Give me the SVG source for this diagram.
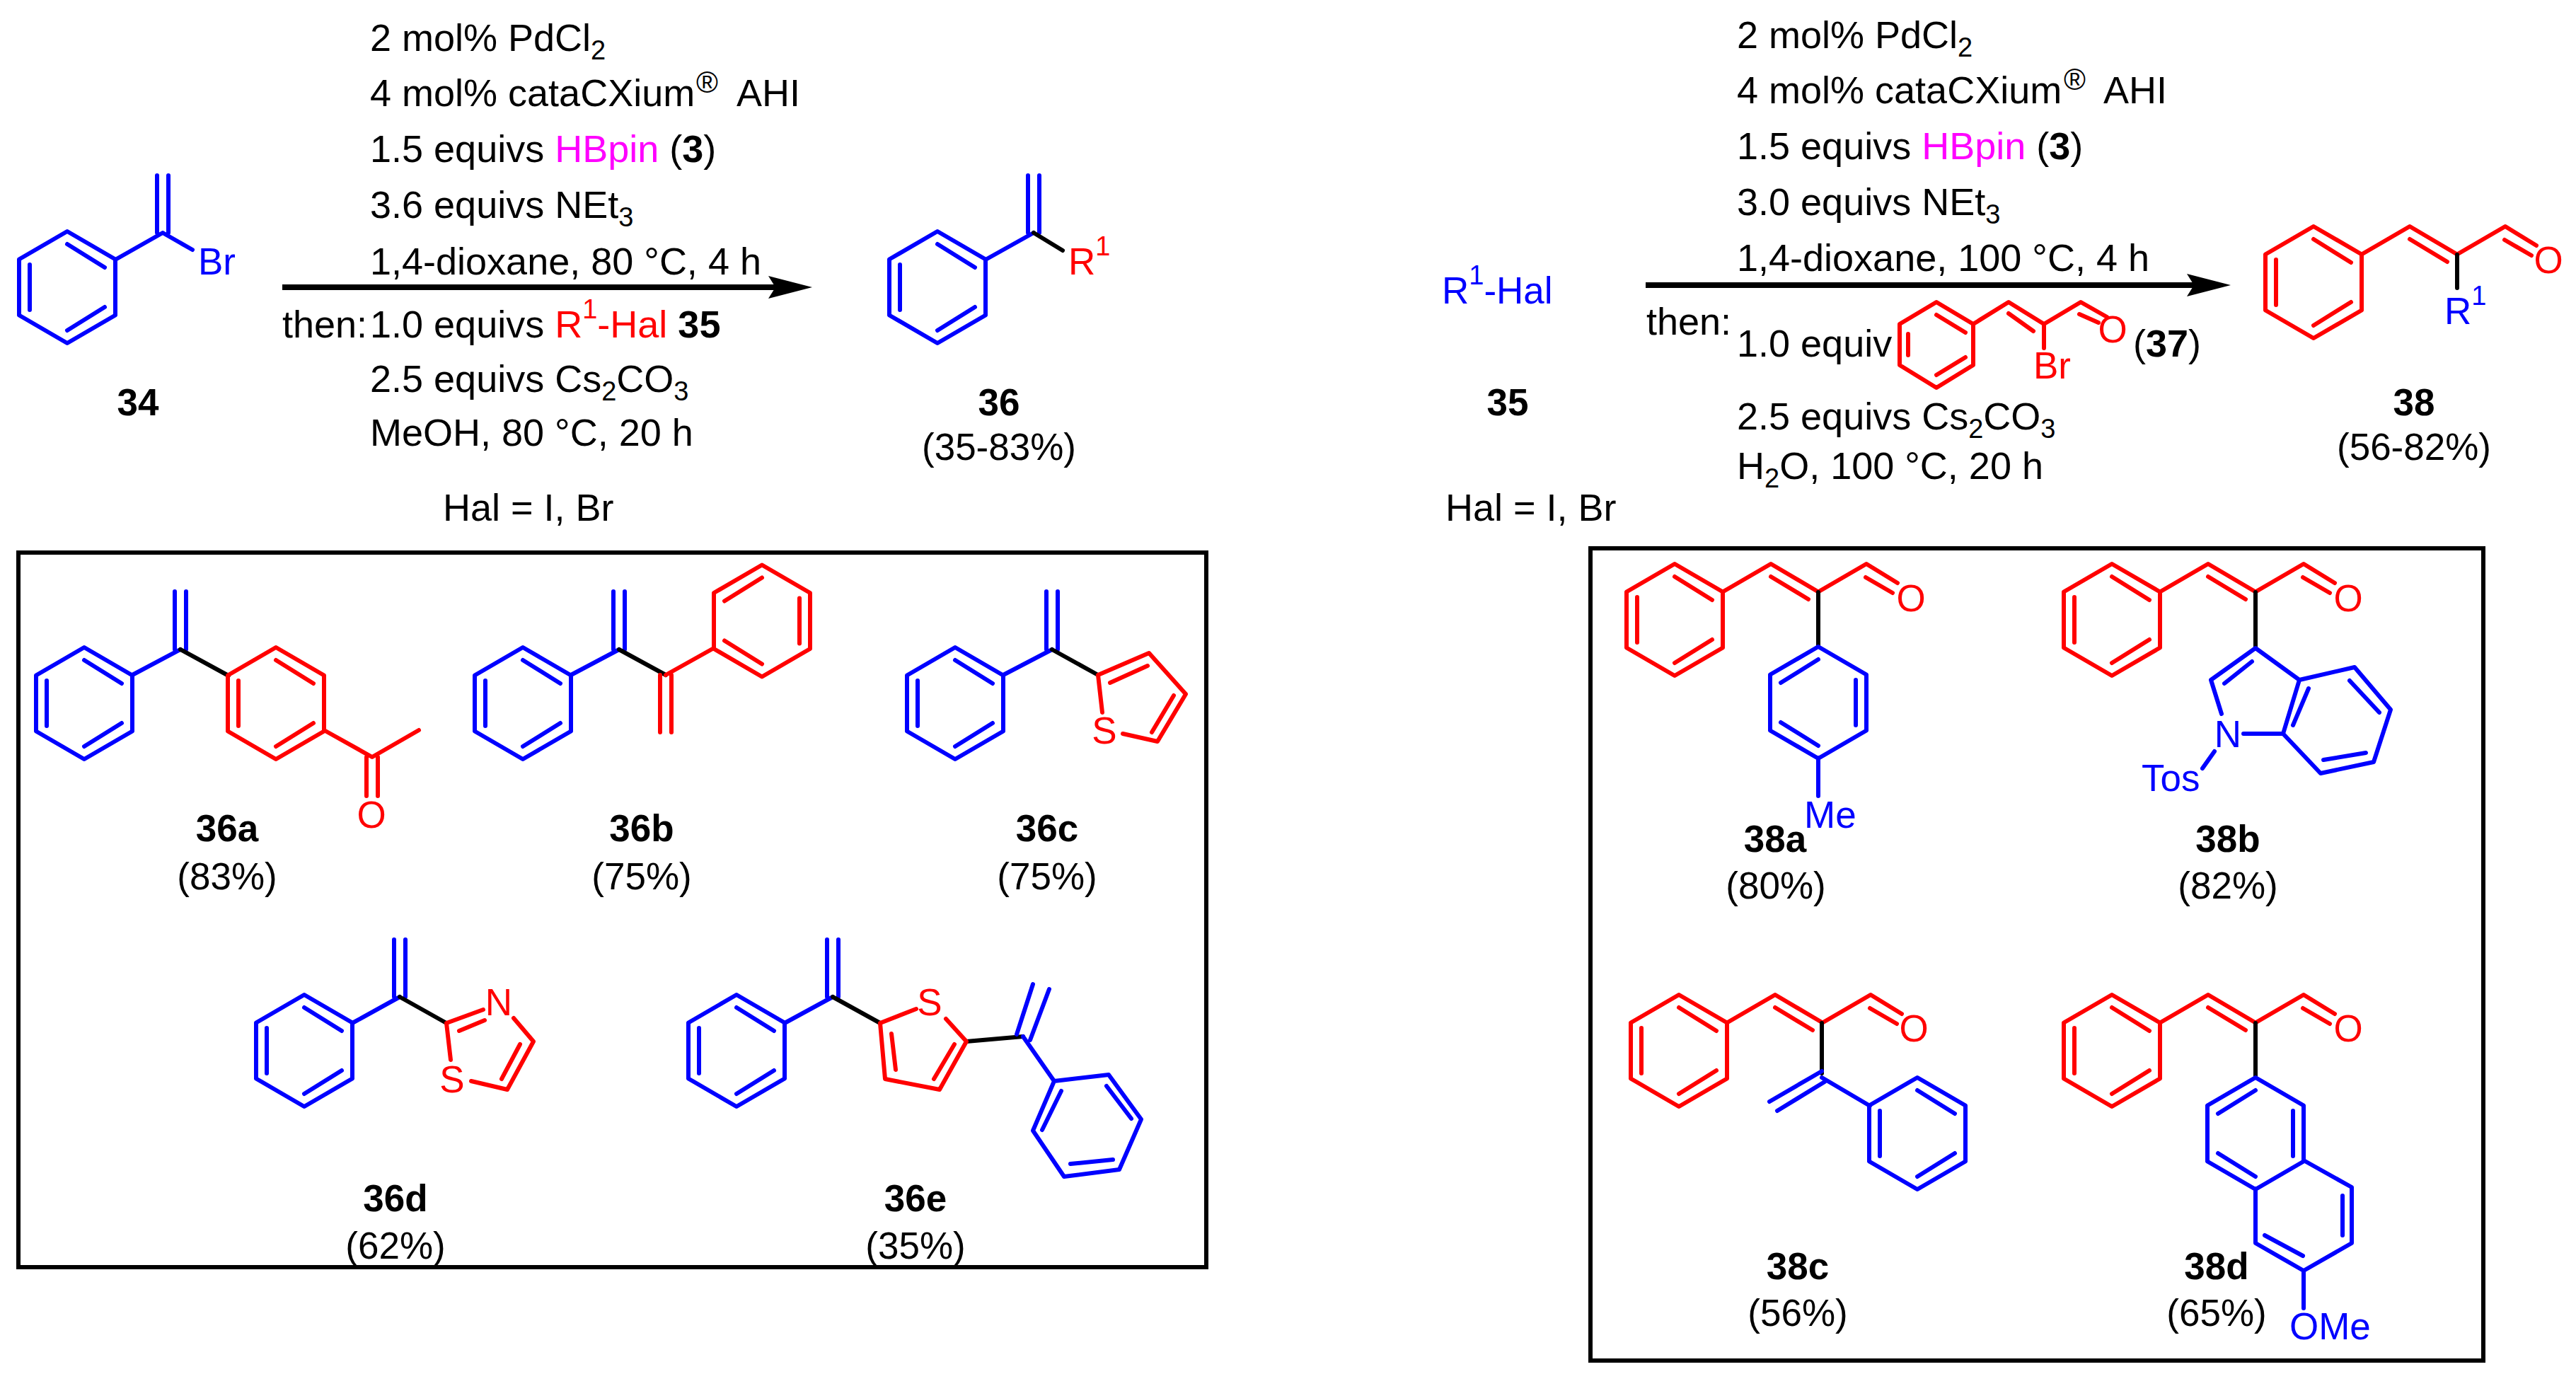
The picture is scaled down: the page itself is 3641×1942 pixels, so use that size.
<svg xmlns="http://www.w3.org/2000/svg" width="3641" height="1942" viewBox="0 0 3641 1942">
<style>
text{font-family:"Liberation Sans",Arial,sans-serif;font-size:53px;fill:#000}
.c text,text.c{font-size:54px}
.b{font-weight:bold}
.m{text-anchor:middle}
.tb{fill:#00f}.tr{fill:#f00}.tm{fill:#f0f}
tspan.s{font-size:38px}
tspan.r{font-size:42px}
.bl,.rd,.k{fill:none;stroke-width:6;stroke-linejoin:round;stroke-linecap:round}
.bl{stroke:#00f}.rd{stroke:#f00}.k{stroke:#000}
.box{fill:none;stroke:#000;stroke-width:6}
.arr{stroke:#000;stroke-width:8;fill:none;marker-end:url(#head)}
</style>
<defs>
<marker id="head" markerUnits="userSpaceOnUse" markerWidth="62" markerHeight="32" refX="10" refY="16" orient="auto" viewBox="0 0 62 32"><path d="M0 0L62 16L0 32L10 16Z" fill="#000"/></marker>
<path id="ph" d="M0-79L68-39.5V39.5L0 79L-68 39.5V-39.5ZM0-61L53-28M-53-32V32M0 61L53 28"/>
<path id="cin" d="M0-79L68-39.5V39.5L0 79L-68 39.5V-39.5ZM0-61L53-28M-53-32V32M0 61L53 28M68-39.5L136-79L203-39.5L271-79L315-52M136-61L189-29M270-60L308-38"/>
</defs>

<g id="connectors">
<path class="arr" d="M399 406H1096"/>
<path class="arr" d="M2326 403H3101"/>
</g>

<g id="conditions-left" class="c">
<text x="523" y="72">2 mol% PdCl<tspan class="s" dy="12">2</tspan></text>
<text x="523" y="150">4 mol% cataCXium<tspan class="r" x="984" dy="-19">®</tspan><tspan x="1041" dy="19">AHI</tspan></text>
<text x="523" y="229">1.5 equivs <tspan class="tm">HBpin</tspan> (<tspan class="b">3</tspan>)</text>
<text x="523" y="308">3.6 equivs NEt<tspan class="s" dy="12">3</tspan></text>
<text x="523" y="388">1,4-dioxane, 80 °C, 4 h</text>
<text x="399" y="477">then:</text>
<text x="523" y="477">1.0 equivs <tspan class="tr">R<tspan class="s" dy="-27">1</tspan><tspan dy="27">-Hal</tspan></tspan> <tspan class="b">35</tspan></text>
<text x="523" y="554">2.5 equivs Cs<tspan class="s" dy="12">2</tspan><tspan dy="-12">CO</tspan><tspan class="s" dy="12">3</tspan></text>
<text x="523" y="630">MeOH, 80 °C, 20 h</text>
<text x="626" y="736">Hal = I, Br</text>
</g>

<g id="node-34">
<use href="#ph" class="bl" x="95" y="406"/>
<path class="bl" d="M163 367L230 329L272 353M222 248V329M238 248V329"/>
<text class="tb" x="280" y="388">Br</text>
<text class="b m" x="195" y="587">34</text>
</g>

<g id="node-36">
<use href="#ph" class="bl" x="1325" y="406"/>
<path class="bl" d="M1393 367L1461 329M1453 248V329M1469 248V329"/>
<path class="k" d="M1461 329L1502 354"/>
<text class="tr" x="1510" y="388">R<tspan class="s" dy="-27">1</tspan></text>
<text class="b m" x="1412" y="587">36</text>
<text class="m" x="1412" y="650">(35-83%)</text>
</g>

<g id="node-35">
<text class="tb" x="2038" y="429">R<tspan class="s" dy="-27">1</tspan><tspan dy="27">-Hal</tspan></text>
<text class="b m" x="2131" y="587">35</text>
<text class="c" x="2043" y="736">Hal = I, Br</text>
</g>

<g id="conditions-right" class="c">
<text x="2455" y="68">2 mol% PdCl<tspan class="s" dy="12">2</tspan></text>
<text x="2455" y="146">4 mol% cataCXium<tspan class="r" x="2917" dy="-19">®</tspan><tspan x="2973" dy="19">AHI</tspan></text>
<text x="2455" y="225">1.5 equivs <tspan class="tm">HBpin</tspan> (<tspan class="b">3</tspan>)</text>
<text x="2455" y="304">3.0 equivs NEt<tspan class="s" dy="12">3</tspan></text>
<text x="2455" y="383">1,4-dioxane, 100 °C, 4 h</text>
<text x="2327" y="473">then:</text>
<text x="2455" y="504">1.0 equiv</text>
<text x="3015" y="504">(<tspan class="b">37</tspan>)</text>
<text x="2455" y="607">2.5 equivs Cs<tspan class="s" dy="12">2</tspan><tspan dy="-12">CO</tspan><tspan class="s" dy="12">3</tspan></text>
<text x="2455" y="677">H<tspan class="s" dy="12">2</tspan><tspan dy="-12">O, 100 °C, 20 h</tspan></text>
</g>

<g id="node-37">
<path class="rd" d="M2737 427L2789 458V516L2737 548L2685 516V458ZM2737 445L2778 470M2697 472V502M2737 530L2778 505M2789 458L2839 427L2889 458L2941 427L2978 448M2839 443L2874 468M2939 444L2966 456M2889 458V492"/>
<text class="tr m" x="2986" y="484">O</text>
<text class="tr" x="2874" y="535">Br</text>
</g>

<g id="node-38">
<use href="#cin" class="rd" x="3270" y="399"/>
<path class="k" d="M3473 360V407"/>
<text class="tr m" x="3602" y="386">O</text>
<text class="tb" x="3455" y="458">R<tspan class="s" dy="-27">1</tspan></text>
<text class="b m" x="3412" y="587">38</text>
<text class="m" x="3412" y="650">(56-82%)</text>
</g>

<rect id="box-36" class="box" x="26" y="781" width="1679" height="1010"/>
<rect id="box-38" class="box" x="2248" y="775" width="1262" height="1148"/>

<g id="node-36a">
<use href="#ph" class="bl" x="119" y="994"/>
<path class="bl" d="M187 954L255 918M247 836V918M263 836V918"/>
<path class="k" d="M255 918L323 955"/>
<use href="#ph" class="rd" x="390" y="994"/>
<path class="rd" d="M458 1032L526 1070L592 1032M518 1070V1125M534 1070V1125"/>
<text class="tr m" x="525" y="1170">O</text>
<text class="b m" x="321" y="1189">36a</text>
<text class="m" x="321" y="1257">(83%)</text>
</g>

<g id="node-36b">
<use href="#ph" class="bl" x="739" y="994"/>
<path class="bl" d="M807 954L875 918M867 836V918M883 836V918"/>
<path class="k" d="M875 918L941 954"/>
<use href="#ph" class="rd" x="1077" y="877.5" transform="translate(2154 0) scale(-1 1)"/>
<path class="rd" d="M941 954L1009 916M933 954V1035M949 954V1035"/>
<text class="b m" x="907" y="1189">36b</text>
<text class="m" x="907" y="1257">(75%)</text>
</g>

<g id="node-36c">
<use href="#ph" class="bl" x="1350" y="994"/>
<path class="bl" d="M1418 954L1487 918M1479 836V918M1495 836V918"/>
<path class="k" d="M1487 918L1552 954"/>
<path class="rd" d="M1558 1007L1552 954L1624 923L1676 981L1636 1048L1587 1037M1569 965L1622 941M1659 983L1628 1035"/>
<text class="tr m" x="1561" y="1051">S</text>
<text class="b m" x="1480" y="1189">36c</text>
<text class="m" x="1480" y="1257">(75%)</text>
</g>

<g id="node-36d">
<use href="#ph" class="bl" x="430" y="1485"/>
<path class="bl" d="M498 1446L565 1409M557 1328V1409M573 1328V1409"/>
<path class="k" d="M565 1409L631 1446"/>
<path class="rd" d="M637 1498L631 1446L683 1427M649 1457L685 1442M726 1439L754 1472L717 1540L666 1528M735 1476L709 1525"/>
<text class="tr m" x="705" y="1435">N</text>
<text class="tr m" x="639" y="1544">S</text>
<text class="b m" x="559" y="1712">36d</text>
<text class="m" x="559" y="1779">(62%)</text>
</g>

<g id="node-36e">
<use href="#ph" class="bl" x="1041" y="1485"/>
<path class="bl" d="M1109 1446L1177 1409M1169 1328V1409M1185 1328V1409"/>
<path class="k" d="M1177 1409L1244 1446M1366 1472L1446 1465"/>
<path class="rd" d="M1295 1426L1244 1446L1251 1525L1328 1540L1366 1472L1337 1440M1260 1461L1266 1512M1320 1525L1349 1476"/>
<text class="tr m" x="1314" y="1435">S</text>
<path class="bl" d="M1460 1391L1437 1462M1483 1398L1456 1470M1446 1465L1490 1528L1567 1519L1613 1582L1582 1653L1504 1663L1460 1598L1490 1528M1500 1542L1473 1597M1564 1535L1599 1581M1513 1645L1573 1639"/>
<text class="b m" x="1294" y="1712">36e</text>
<text class="m" x="1294" y="1779">(35%)</text>
</g>

<g id="node-38a">
<use href="#cin" class="rd" x="2367" y="876"/>
<path class="k" d="M2570 837V914"/>
<text class="tr m" x="2701" y="864">O</text>
<use href="#ph" class="bl" x="2570" y="993" transform="translate(5140 0) scale(-1 1)"/>
<path class="bl" d="M2570 1071V1125"/>
<text class="tb" x="2550" y="1170">Me</text>
<text class="b m" x="2509" y="1204">38a</text>
<text class="m" x="2510" y="1270">(80%)</text>
</g>

<g id="node-38b">
<use href="#cin" class="rd" x="2985" y="876"/>
<path class="k" d="M3188 837V916"/>
<text class="tr m" x="3319" y="864">O</text>
<path class="bl" d="M3140 1009L3125 961L3188 916L3250 961L3227 1037H3171M3250 961L3328 943L3379 1003L3355 1077L3280 1093L3227 1037M3144 966L3183 935M3263 973L3241 1025M3321 962L3363 1007M3344 1064L3284 1074M3130 1062L3113 1086"/>
<text class="tb m" x="3149" y="1056">N</text>
<text class="tb" x="3027" y="1118">Tos</text>
<text class="b m" x="3149" y="1204">38b</text>
<text class="m" x="3149" y="1270">(82%)</text>
</g>

<g id="node-38c">
<use href="#cin" class="rd" x="2373" y="1485"/>
<path class="k" d="M2575 1446V1517"/>
<text class="tr m" x="2705" y="1472">O</text>
<path class="bl" d="M2575 1514L2501 1557M2579 1529L2512 1570M2575 1523L2643 1563"/>
<use href="#ph" class="bl" x="2710" y="1602"/>
<text class="b m" x="2541" y="1808">38c</text>
<text class="m" x="2541" y="1874">(56%)</text>
</g>

<g id="node-38d">
<use href="#cin" class="rd" x="2985" y="1485"/>
<path class="k" d="M3188 1446V1523"/>
<text class="tr m" x="3319" y="1472">O</text>
<use href="#ph" class="bl" x="3188" y="1602" transform="translate(6376 0) scale(-1 1)"/>
<path class="bl" d="M3256 1640L3324 1678V1757L3256 1796L3188 1757V1680M3311 1690V1746M3201 1746L3255 1775M3256 1796V1849"/>
<text class="tb" x="3236" y="1893">OMe</text>
<text class="b m" x="3133" y="1808">38d</text>
<text class="m" x="3133" y="1874">(65%)</text>
</g>
</svg>
